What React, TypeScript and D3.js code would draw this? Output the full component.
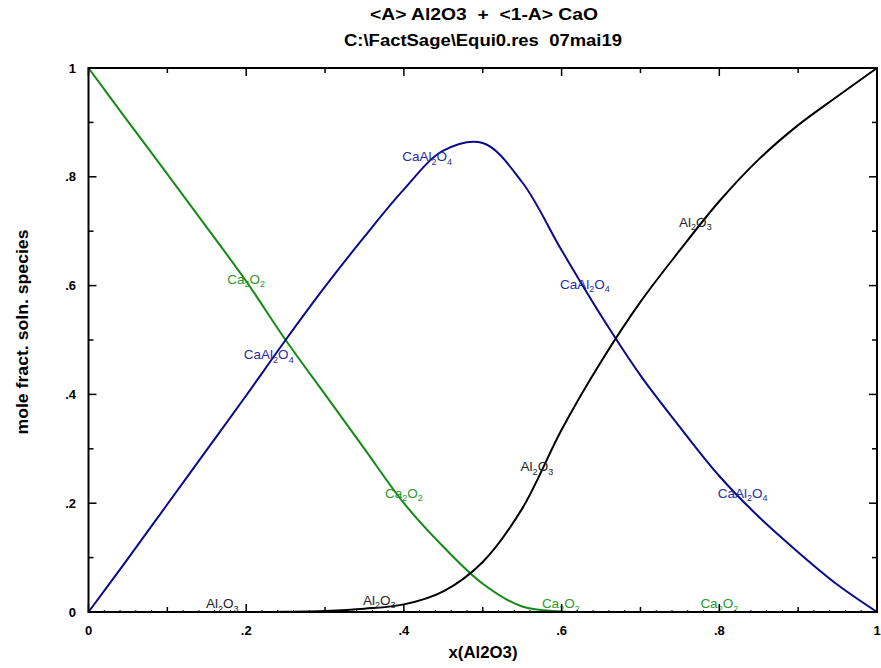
import React from "react";
import * as d3 from "d3";

const xValues = [0, 0.05, 0.1, 0.15, 0.2, 0.25, 0.3, 0.35, 0.4, 0.45, 0.5, 0.55, 0.6, 0.65, 0.7, 0.75, 0.8, 0.85, 0.9, 0.95, 1];
const ca2o2 = [1, 0.902, 0.805, 0.707, 0.608, 0.5, 0.4, 0.3, 0.2, 0.12, 0.052, 0.01, 0.001, 0, 0, 0, 0, 0, 0, 0, 0];
const caal2o4 = [0, 0.098, 0.198, 0.298, 0.398, 0.5, 0.598, 0.69, 0.777, 0.848, 0.862, 0.79, 0.665, 0.545, 0.435, 0.34, 0.25, 0.175, 0.11, 0.05, 0];
const al2o3 = [0, 0, 0, 0, 0, 0.0005, 0.002, 0.006, 0.014, 0.038, 0.092, 0.19, 0.335, 0.46, 0.57, 0.665, 0.755, 0.832, 0.895, 0.948, 1];

const xTickLabels = ["0", ".2", ".4", ".6", ".8", "1"];
const yTickLabels = ["0", ".2", ".4", ".6", ".8", "1"];

const labelTexts = ["Ca2O2", "CaAl2O4", "CaAl2O4", "CaAl2O4", "Al2O3", "Ca2O2", "Al2O3", "CaAl2O4", "Al2O3", "Al2O3", "Ca2O2", "Ca2O2"];
const labelX = [0.176, 0.197, 0.398, 0.598, 0.749, 0.376, 0.548, 0.798, 0.149, 0.348, 0.575, 0.776];
const labelY = [0.603, 0.465, 0.829, 0.594, 0.708, 0.21, 0.259, 0.21, 0.007, 0.013, 0.007, 0.007];
const labelSeries = [0, 1, 1, 1, 2, 0, 2, 1, 2, 2, 0, 0];

const GREEN = "#138a13";
const BLUE = "#0a0a8c";
const BLACK = "#000000";
const seriesColors = [GREEN, BLUE, BLACK];
const labelColors = ["#2a9a2a", "#2a2aa0", "#222222"];

const W = 881, H = 668;
const left = 88.5, right = 877, top = 68, bottom = 612;

function Formula({ text, x, y, color }: { text: string; x: number; y: number; color: string }) {
  const parts = text.match(/[A-Za-z]+|\d+/g) || [];
  let prevSub = false;
  return (
    <text x={x} y={y} fill={color} fontFamily="'Liberation Sans', Arial, sans-serif" fontSize={13.5}>
      {parts.map((p, i) => {
        const isSub = /\d/.test(p);
        const dy = isSub && !prevSub ? 3.5 : !isSub && prevSub ? -3.5 : 0;
        prevSub = isSub;
        return (
          <tspan key={i} dy={dy} fontSize={isSub ? 9 : 13.5}>{p}</tspan>
        );
      })}
    </text>
  );
}

export default function App() {
  const x = d3.scaleLinear().domain([0, 1]).range([left, right]);
  const y = d3.scaleLinear().domain([0, 1]).range([bottom, top]);
  const series = [ca2o2, caal2o4, al2o3];
  const line = d3
    .line<number>()
    .x((_, i) => x(xValues[i]))
    .y((d) => y(d))
    .curve(d3.curveCatmullRom.alpha(0.5));

  const tenth = d3.range(0, 11).map((i) => i / 10);
  const fine = d3.range(0, 51).map((i) => i / 50);
  const font = "'Liberation Sans', Arial, sans-serif";

  return (
    <svg width={W} height={H} style={{ position: "absolute", left: 0, top: 0, background: "#fff" }}>
      <rect x={0} y={0} width={W} height={H} fill="#fff" />
      <text x={484} y={20} textAnchor="middle" fontFamily={font} fontWeight="bold" fontSize={16}
        textLength={228} lengthAdjust="spacingAndGlyphs" style={{ whiteSpace: "pre" }}>
        {"<A> Al2O3  +  <1-A> CaO"}
      </text>
      <text x={483} y={46} textAnchor="middle" fontFamily={font} fontWeight="bold" fontSize={16}
        textLength={278} lengthAdjust="spacingAndGlyphs" style={{ whiteSpace: "pre" }}>
        {"C:\\FactSage\\Equi0.res  07mai19"}
      </text>

      {series.map((s, k) => (
        <path key={k} d={line(s) || ""} fill="none" stroke={seriesColors[k]} strokeWidth={2} />
      ))}

      {labelTexts.map((t, i) => (
        <Formula key={i} text={t} x={x(labelX[i])} y={y(labelY[i])} color={labelColors[labelSeries[i]]} />
      ))}

      {fine.map((v, i) => (
        <line key={"f" + i} x1={x(v)} x2={x(v)} y1={bottom} y2={bottom - 2} stroke="#000" strokeWidth={1} />
      ))}
      {tenth.map((v, i) => {
        const len = i % 2 === 0 ? 8 : 5;
        return (
          <g key={"t" + i}>
            <line x1={x(v)} x2={x(v)} y1={bottom} y2={bottom - len} stroke="#000" strokeWidth={1.5} />
            <line x1={x(v)} x2={x(v)} y1={top} y2={top + len} stroke="#000" strokeWidth={1.5} />
            <line x1={left} x2={left + len} y1={y(v)} y2={y(v)} stroke="#000" strokeWidth={1.5} />
            <line x1={right} x2={right - len} y1={y(v)} y2={y(v)} stroke="#000" strokeWidth={1.5} />
          </g>
        );
      })}

      <rect x={left} y={top} width={right - left} height={bottom - top} fill="none" stroke="#000" strokeWidth={2} />

      {xTickLabels.map((t, i) => (
        <text key={"xl" + i} x={x(i * 0.2)} y={635} textAnchor="middle" fontFamily={font} fontWeight="bold" fontSize={13}>
          {t}
        </text>
      ))}
      {yTickLabels.map((t, i) => (
        <text key={"yl" + i} x={76} y={y(i * 0.2) + 4.5} textAnchor="end" fontFamily={font} fontWeight="bold" fontSize={13}>
          {t}
        </text>
      ))}

      <text x={483} y={658} textAnchor="middle" fontFamily={font} fontWeight="bold" fontSize={16}
        textLength={69} lengthAdjust="spacingAndGlyphs">
        x(Al2O3)
      </text>
      <text
        transform={`translate(28,${332}) rotate(-90)`}
        textAnchor="middle"
        fontFamily={font}
        fontWeight="bold"
        fontSize={16}
        textLength={205}
        lengthAdjust="spacingAndGlyphs"
      >
        mole fract. soln. species
      </text>
    </svg>
  );
}
